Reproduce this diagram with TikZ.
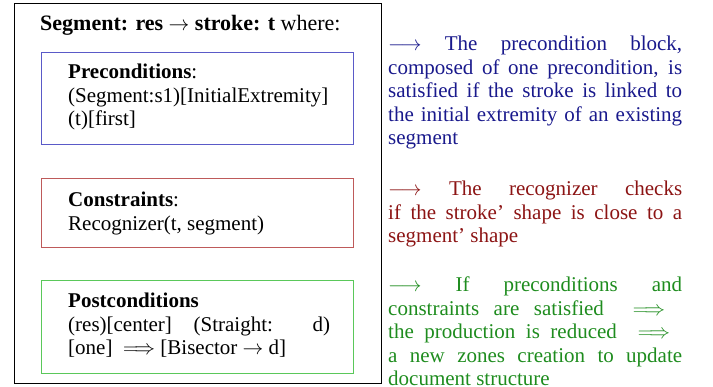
\documentclass[tikz,border=0pt]{standalone}
\usepackage{fontspec}
\setmainfont{Liberation Serif}
\definecolor{textblue}{RGB}{25,25,140}
\definecolor{boxblue}{RGB}{90,90,200}
\definecolor{textred}{RGB}{140,20,20}
\definecolor{boxred}{RGB}{190,90,90}
\definecolor{textgreen}{RGB}{30,140,30}
\definecolor{boxgreen}{RGB}{90,200,90}
\begin{document}
\begin{tikzpicture}[x=1pt,y=-1pt,
  box/.style={draw, rectangle, inner sep=0pt, anchor=north west, line width=1pt},
  txt/.style={inner sep=0pt, anchor=base west, align=justify, font=\fontsize{21}{23.5}\selectfont},
  lefttxt/.style={txt, text width=262pt},
  righttxt/.style={txt, text width=294pt}]
\useasboundingbox (0,0) rectangle (713,387);
\node[box, line width=1.2pt, minimum width=367pt, minimum height=380pt] (outer) at (14,3) {};
\node[box, draw=boxblue, minimum width=312pt, minimum height=92pt] (prebox) at (41,52) {};
\node[box, draw=boxred, minimum width=312pt, minimum height=69pt] (conbox) at (41,178) {};
\node[box, draw=boxgreen, minimum width=312pt, minimum height=93pt] (postbox) at (41,280) {};
\node[txt, align=left, font=\fontsize{22}{24}\selectfont] (title) at (40,31) {\textbf{Segment: res $\rightarrow$ stroke: t} where:};
\node[lefttxt] (pretxt) at (68,79) {\textbf{Preconditions}:\\(Segment:s1)[InitialExtremity]\\(t)[first]};
\node[lefttxt] (contxt) at (68,207) {\textbf{Constraints}:\\Recognizer(t, segment)};
\node[lefttxt] (posttxt) at (68,308) {\textbf{Postconditions}\\(res)[center] (Straight: d)\linebreak{}[one]\ \ $\Longrightarrow$ [Bisector $\rightarrow$ d]};
\node[righttxt, text=textblue] (bluetxt) at (388,51) {$\longrightarrow$ The precondition block,\linebreak composed of one precondition, is\linebreak satisfied if the stroke is linked to\linebreak the initial extremity of an existing\linebreak segment};
\node[righttxt, text=textred] (redtxt) at (388,196) {$\longrightarrow$ The recognizer checks\linebreak if the stroke’ shape is close to a\linebreak segment’ shape};
\node[righttxt, text=textgreen] (greentxt) at (388,292) {$\longrightarrow$ If preconditions and\linebreak constraints are satisfied\ \ $\Longrightarrow$\hspace*{17pt}\linebreak the production is reduced\ \ $\Longrightarrow$\hspace*{12pt}\linebreak a new zones creation to update\linebreak document structure};
\end{tikzpicture}
\end{document}
